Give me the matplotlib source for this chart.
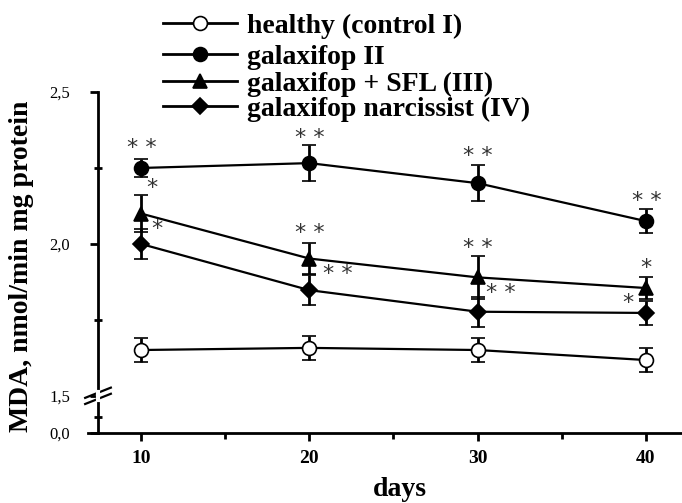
import matplotlib
matplotlib.use("Agg")
import matplotlib.pyplot as plt
from matplotlib.lines import Line2D

# data
days = [10, 20, 30, 40]
healthy = [1.651, 1.658, 1.651, 1.618]
healthy_err = [0.04, 0.04, 0.04, 0.04]
galax = [2.25, 2.266, 2.20, 2.075]
galax_err = [0.03, 0.06, 0.06, 0.04]
galax_sfl = [2.10, 1.952, 1.89, 1.855]
galax_sfl_err = [0.06, 0.05, 0.07, 0.035]
galax_narc = [2.00, 1.848, 1.777, 1.773]
galax_narc_err = [0.05, 0.05, 0.05, 0.04]

labels = ["healthy (control I)", "galaxifop II", "galaxifop + SFL (III)",
          "galaxifop narcissist (IV)"]

# significance marks: (x, y, text)
star_x = [10.06, 20.04, 30.02, 40.07, 10.65, 20.04, 30.02, 40.0, 10.95, 21.7, 31.4, 38.94]
star_y = [2.315, 2.348, 2.289, 2.141, 2.184, 2.035, 1.986, 1.92, 2.049, 1.901, 1.838, 1.805]
star_txt = ["* *", "* *", "* *", "* *", "*", "* *", "* *", "*", "*", "* *", "* *", "*"]

# broken axis: value 0,0 drawn just below 1,5
y_zero = 1.378
ytick_pos = [y_zero, 1.5, 2.0, 2.5]
ytick_lab = ["0,0", "1,5", "2,0", "2,5"]

serif = "Liberation Serif"

fig = plt.figure(figsize=(6.82, 5.03), dpi=100)
ax = fig.add_axes([0.1437, 0.1392, 0.8563, 0.6779])

series = [
    (healthy, healthy_err, "o", "white"),
    (galax, galax_err, "o", "black"),
    (galax_sfl, galax_sfl_err, "^", "black"),
    (galax_narc, galax_narc_err, "D", "black"),
]
for vals, err, mk, fc in series:
    ms = 8 if mk == "D" else 10
    ax.errorbar(days, vals, yerr=err, color="black", lw=1.6, marker=mk, ms=ms,
                mfc=fc, mec="black", mew=1.2, capsize=5, capthick=2, elinewidth=2)

for x, y, t in zip(star_x, star_y, star_txt):
    ax.text(x, y, t, ha="center", va="center", fontsize=16, color="#333333",
            family="DejaVu Sans")

ax.set_xlim(7.445, 42.14)
ax.set_ylim(y_zero, 2.5)
ax.set_xticks(days)
ax.set_xticklabels(["10", "20", "30", "40"], family=serif, fontsize=14, fontweight="bold")
ax.set_xticks([15, 25, 35], minor=True)
ax.set_yticks(ytick_pos)
ax.set_yticklabels(ytick_lab, family=serif, fontsize=12)
ax.set_yticks([1.431, 1.75, 2.25], minor=True)
ax.tick_params(axis="both", which="major", direction="out", width=2, length=6)
ax.tick_params(axis="x", which="minor", direction="out", width=2, length=4)
ax.tick_params(axis="y", which="minor", direction="inout", width=2, length=6)
ax.tick_params(axis="y", which="major", pad=14)
ax.tick_params(axis="x", which="major", pad=6)

for s in ["top", "right"]:
    ax.spines[s].set_visible(False)
for s in ["left", "bottom"]:
    ax.spines[s].set_linewidth(2)

# extend x axis line to the left of the y axis
ax.plot([-0.017, 0], [0, 0], transform=ax.transAxes, color="black", lw=2, clip_on=False)
# axis break marks
for dy in [0.0, 0.018]:
    ax.plot([-0.022, 0.022], [0.085 + dy, 0.115 + dy], transform=ax.transAxes,
            color="black", lw=1.6, clip_on=False)
ax.plot([0, 0], [0.098, 0.121], transform=ax.transAxes, color="white", lw=3,
        clip_on=False, zorder=5)

ax.set_ylabel("MDA, nmol/min mg protein", family=serif, fontweight="bold", fontsize=20)
ax.yaxis.label.set_va("center")
ax.yaxis.set_label_coords(-0.131, 0.49)
ax.set_xlabel("days", family=serif, fontweight="bold", fontsize=20)
ax.xaxis.set_label_coords(0.517, -0.13)

# legend drawn in figure pixels
leg_rows = [23, 54, 81, 106]
W, H = 682.0, 503.0
for (vals, err, mk, fc), lab, ry in zip(series, labels, leg_rows):
    yy = 1 - ry / H
    fig.add_artist(Line2D([163 / W, 237 / W], [yy, yy], transform=fig.transFigure,
                          color="black", lw=2))
    fig.add_artist(Line2D([200 / W], [yy], transform=fig.transFigure, marker=mk,
                          ms=8 if mk == "D" else 10, mfc=fc, mec="black", mew=1.2,
                          color="black", lw=0))
    fig.text(247 / W, yy - 3 / H, lab, family=serif, fontweight="bold", fontsize=20,
             va="center", ha="left")

fig.savefig("out.png", dpi=100)
